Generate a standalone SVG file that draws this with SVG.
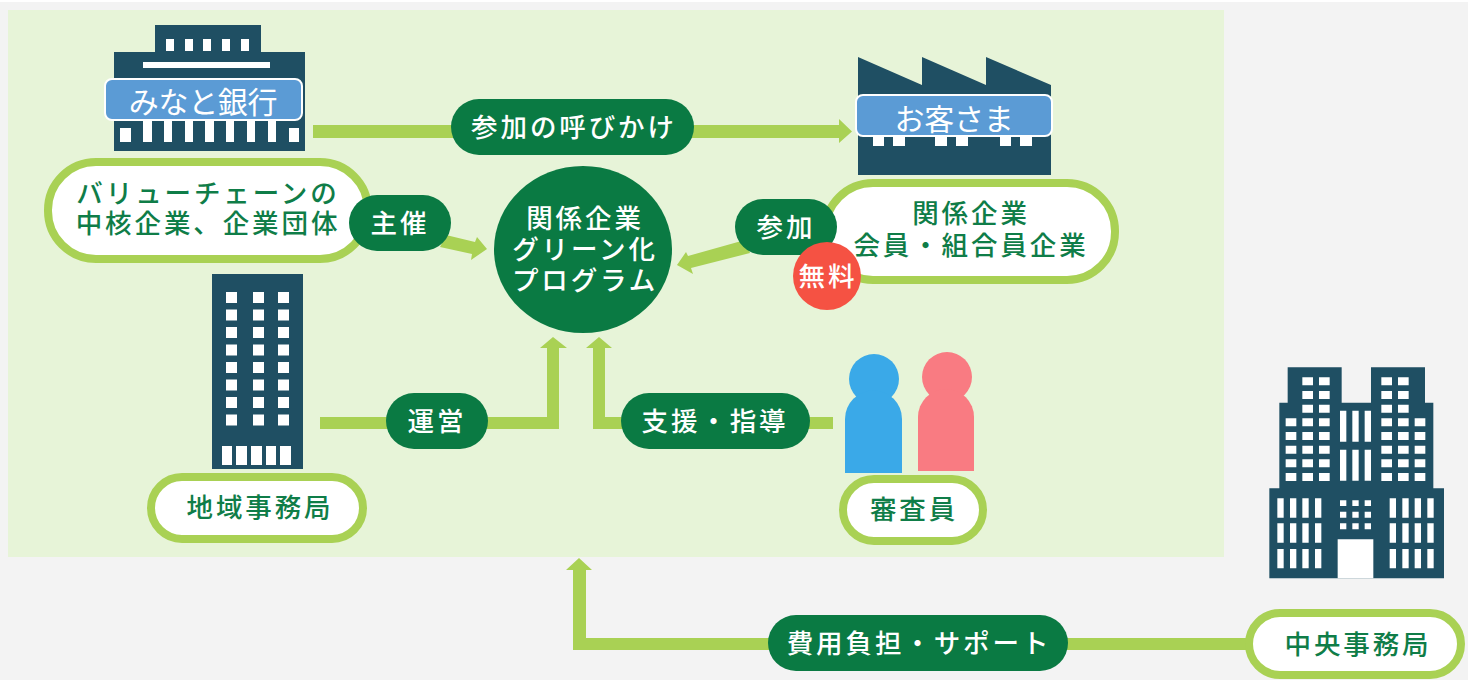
<svg xmlns="http://www.w3.org/2000/svg" width="1468" height="682" viewBox="0 0 1468 682">
<style>
text{font-family:"Noto Sans CJK JP","Noto Sans",sans-serif;font-size:26.500px;font-weight:500;letter-spacing:2.900px;text-anchor:middle}
.dk{fill:#1f4f63}
.w{fill:#fff}
.pill{fill:#fff;stroke:#a9d154;stroke-width:8}
.tag{fill:#0a7a43}
.tw{fill:#fff}
.tg{fill:#0f7d48}
.lab{fill:#5b9bd5;stroke:#fff;stroke-width:2}
.lt{fill:#fff;font-size:30px;font-weight:400;letter-spacing:-.300px}
.ln{fill:#a9d154}
</style>
<rect width="1468" height="682" fill="#fff"/>
<rect y="2" width="1468" height="678" fill="#f3f3f3"/>
<rect x="8" y="10" width="1216" height="547" fill="#e7f4d8"/>

<g id="connectors">
<path class="ln" d="M313 125H839V119L852 131.500 839 143V138H313Z"/>
<path class="ln" d="M446 235L475 242 477 237 487 249 471 260 472 254 440 247Z"/>
<path class="ln" d="M745 240L688 256 686 252 677 265 693 274 691 268 750 253Z"/>
<path class="ln" d="M320 417H547V348H540L553 337 567 348H559V429H320Z"/>
<path class="ln" d="M833 417H605V348H612L599 337 586 348H593V429H833Z"/>
<path class="ln" d="M1250 638H586V570H592L579 558 566 570H573V650H1250Z"/>
</g>

<g id="bank">
<path class="dk" d="M155 25H261V52H305V151H114V52H155Z"/>
<path class="w" d="M166 39h8v12h-8zM185 39h8v12h-8zM203 39h8v12h-8zM222 39h8v12h-8zM241 39h8v12h-8zM143 62h127v6H143zM120 128h11v14h-11zM143 120h9v22h-9zM164 120h8v22h-8zM185 120h8v22h-8zM205 120h9v22h-9zM226 120h8v22h-8zM247 120h8v22h-8zM268 120h8v22h-8zM289 128h10v14h-10z"/>
<rect class="lab" x="105" y="79" width="197" height="41" rx="7"/>
<text class="lt" x="203" y="113">みなと銀行</text>
</g>

<g id="value-chain">
<rect class="pill" x="48" y="162" width="320" height="97" rx="48"/>
<text class="tg" x="208" y="203">バリューチェーンの</text>
<text class="tg" x="208" y="233">中核企業、企業団体</text>
</g>

<g id="host-tag">
<rect class="tag" x="349" y="195" width="102" height="56" rx="28"/>
<text class="tw" x="400" y="233">主催</text>
</g>

<g id="call-tag">
<rect class="tag" x="451" y="99" width="243" height="56" rx="28"/>
<text class="tw" x="574" y="137">参加の呼びかけ</text>
</g>

<g id="factory">
<path class="dk" d="M858 57L922 85V57L986 85V57L1051 85V175H858Z"/>
<path class="w" d="M873 136h11v10h-11zM893 136h12v10h-12zM935 136h12v10h-12zM956 136h12v10h-12zM1000 136h11v10h-11zM1020 136h12v10h-12z"/>
<rect class="lab" x="856" y="95" width="196" height="41" rx="7"/>
<text class="lt" x="954" y="129.500">お客さま</text>
</g>

<g id="members">
<rect class="pill" x="825" y="183" width="290" height="97" rx="48"/>
<text class="tg" x="971" y="223">関係企業</text>
<text class="tg" x="971" y="255">会員・組合員企業</text>
</g>

<g id="join-tag">
<rect class="tag" x="735" y="199" width="102" height="56" rx="28"/>
<text class="tw" x="786" y="237">参加</text>
</g>

<g id="free-tag">
<circle cx="827" cy="276" r="34" fill="#f55243"/>
<text class="tw" x="828" y="286">無料</text>
</g>

<g id="program">
<ellipse cx="583" cy="249.500" rx="89" ry="83.500" fill="#0a7a43"/>
<text class="tw" x="585" y="228">関係企業</text>
<text class="tw" x="585" y="259">グリーン化</text>
<text class="tw" x="585" y="290">プログラム</text>
</g>

<g id="regional-building">
<rect class="dk" x="212" y="274" width="91" height="195"/>
<path class="w" d="M226 292h11v11h-11zM253 292h11v11h-11zM278 292h11v11h-11zM226 309.500h11v11h-11zM253 309.500h11v11h-11zM278 309.500h11v11h-11zM226 327h11v11h-11zM253 327h11v11h-11zM278 327h11v11h-11zM226 344.500h11v11h-11zM253 344.500h11v11h-11zM278 344.500h11v11h-11zM226 362h11v11h-11zM253 362h11v11h-11zM278 362h11v11h-11zM226 379.500h11v11h-11zM253 379.500h11v11h-11zM278 379.500h11v11h-11zM226 397h11v11h-11zM253 397h11v11h-11zM278 397h11v11h-11zM226 414.500h11v11h-11zM253 414.500h11v11h-11zM278 414.500h11v11h-11zM222 446h10v19h-10zM236 446h11v19h-11zM251 446h11v19h-11zM266 446h10v19h-10zM280 446h11v19h-11z"/>
</g>

<g id="regional-office">
<rect class="pill" x="151" y="477" width="212" height="62" rx="31"/>
<text class="tg" x="260" y="517">地域事務局</text>
</g>

<g id="operate-tag">
<rect class="tag" x="386" y="393" width="102" height="56" rx="28"/>
<text class="tw" x="437" y="431">運営</text>
</g>

<g id="support-tag">
<rect class="tag" x="621" y="393" width="189" height="56" rx="28"/>
<text class="tw" x="715" y="431">支援・指導</text>
</g>

<g id="reviewers-icon">
<circle cx="874" cy="379" r="25" fill="#3aa9e8"/>
<path d="M845 473V419a28.500 28.500 0 0 1 57 0V473Z" fill="#3aa9e8"/>
<circle cx="947" cy="377" r="25" fill="#f97b82"/>
<path d="M918 471V417a28 28 0 0 1 56 0V471Z" fill="#f97b82"/>
</g>

<g id="reviewers">
<rect class="pill" x="843" y="479" width="140" height="62" rx="31"/>
<text class="tg" x="914" y="519">審査員</text>
</g>

<g id="head-office-building">
<g transform="translate(1240 350) scale(.33333)">
<path class="dk" d="M88 415H118V158H143V52H305V158H393V52H555V158H580V415H612V685H88Z"/>
<path class="w" d="M293 568H400V685H293ZM187 82h32v24h-32zM237 82h32v24h-32zM187 123h32v24h-32zM237 123h32v24h-32zM187 164h32v24h-32zM237 164h32v24h-32zM137 205h32v24h-32zM187 205h32v24h-32zM237 205h32v24h-32zM137 246h32v24h-32zM187 246h32v24h-32zM237 246h32v24h-32zM137 287h32v24h-32zM187 287h32v24h-32zM237 287h32v24h-32zM137 328h32v24h-32zM187 328h32v24h-32zM237 328h32v24h-32zM137 369h32v24h-32zM187 369h32v24h-32zM237 369h32v24h-32zM424 82h32v24h-32zM474 82h32v24h-32zM424 123h32v24h-32zM474 123h32v24h-32zM424 164h32v24h-32zM474 164h32v24h-32zM424 205h32v24h-32zM474 205h32v24h-32zM524 205h32v24h-32zM424 246h32v24h-32zM474 246h32v24h-32zM524 246h32v24h-32zM424 287h32v24h-32zM474 287h32v24h-32zM524 287h32v24h-32zM424 328h32v24h-32zM474 328h32v24h-32zM524 328h32v24h-32zM424 369h32v24h-32zM474 369h32v24h-32zM524 369h32v24h-32zM300 182h19v93h-19zM337 182h19v93h-19zM374 182h19v93h-19zM300 299h19v93h-19zM337 299h19v93h-19zM374 299h19v93h-19zM112 445h19v58h-19zM150 445h19v58h-19zM187 445h19v58h-19zM225 445h19v58h-19zM112 520h19v58h-19zM150 520h19v58h-19zM187 520h19v58h-19zM225 520h19v58h-19zM112 597h19v58h-19zM150 597h19v58h-19zM187 597h19v58h-19zM225 597h19v58h-19zM449 445h19v58h-19zM487 445h19v58h-19zM524 445h19v58h-19zM562 445h19v58h-19zM449 520h19v58h-19zM487 520h19v58h-19zM524 520h19v58h-19zM562 520h19v58h-19zM449 597h19v58h-19zM487 597h19v58h-19zM524 597h19v58h-19zM562 597h19v58h-19zM300 451h19v17h-19zM337 451h19v17h-19zM374 451h19v17h-19zM300 485h19v18h-19zM337 485h19v18h-19zM374 485h19v18h-19zM300 520h19v18h-19zM337 520h19v18h-19zM374 520h19v18h-19z"/>
</g>
</g>

<g id="head-office">
<rect class="pill" x="1249" y="613" width="212" height="62" rx="31"/>
<text class="tg" x="1358" y="654">中央事務局</text>
</g>

<g id="cost-tag">
<rect class="tag" x="768" y="615" width="300" height="56" rx="28"/>
<text class="tw" x="919" y="653">費用負担・サポート</text>
</g>
</svg>
